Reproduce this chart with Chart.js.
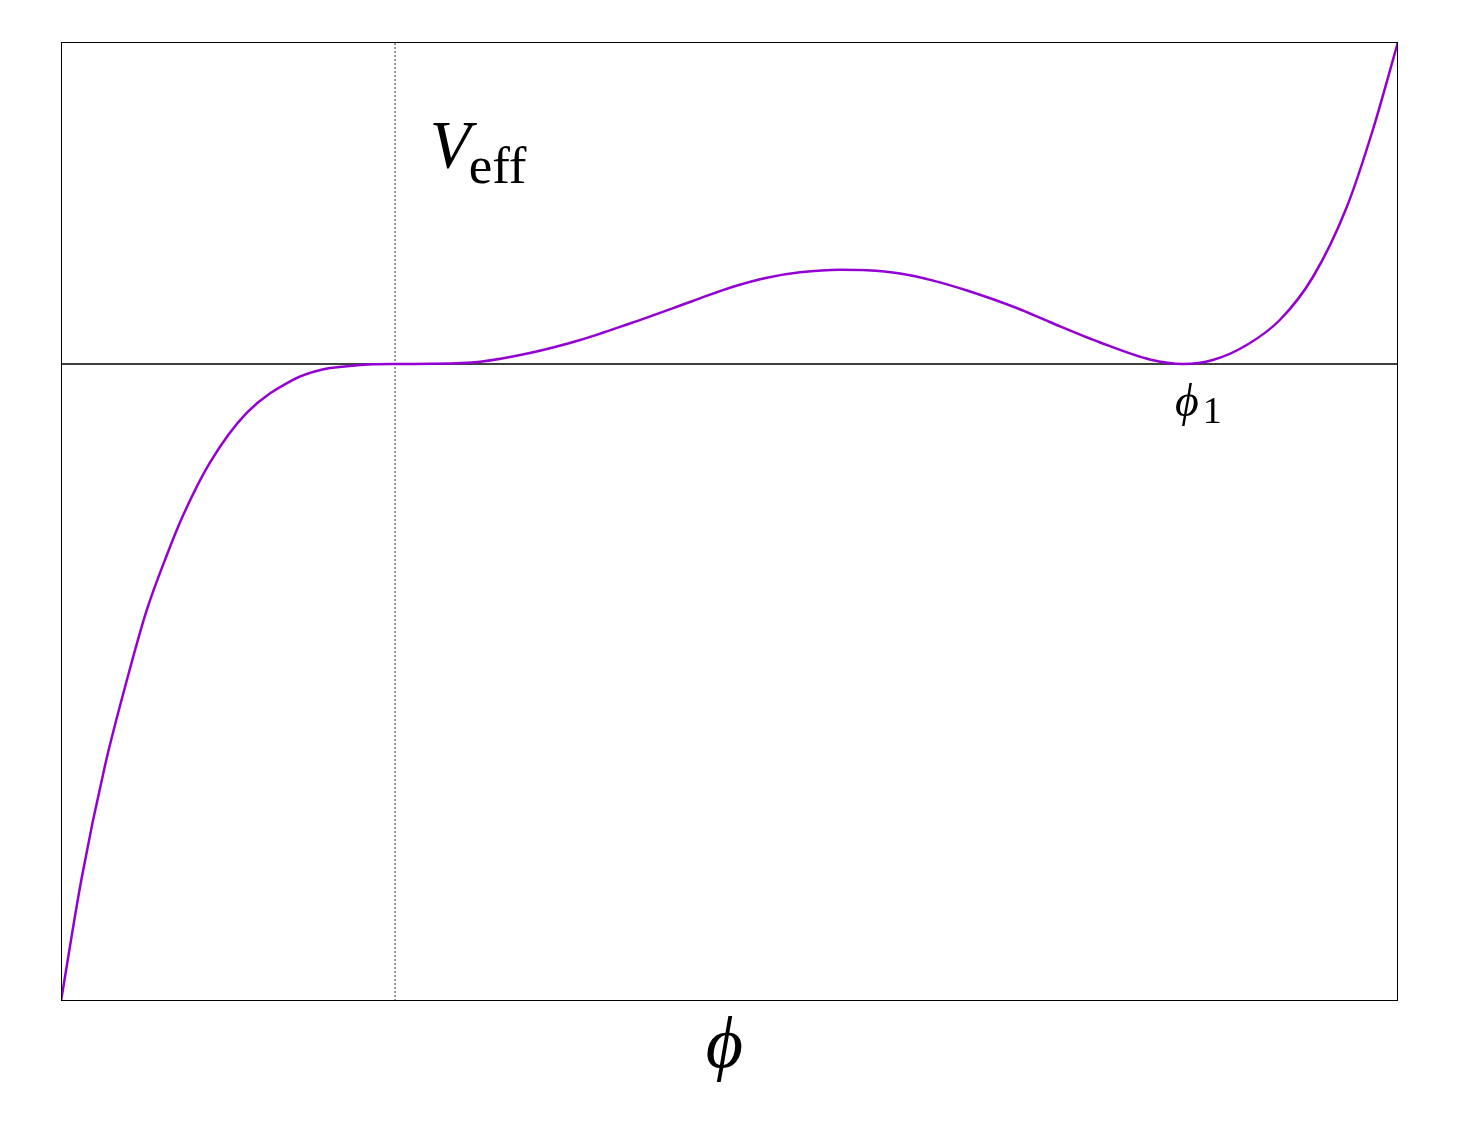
<!DOCTYPE html>
<html>
<head>
<meta charset="utf-8">
<script src="https://cdn.jsdelivr.net/npm/chart.js@4"></script>
<style>
  html, body { margin: 0; padding: 0; background: #fff; }
  #wrap { width: 1458px; height: 1125px; }
</style>
</head>
<body>
<div id="wrap"><canvas id="potChart" width="1458" height="1125"></canvas></div>
<script>
// phi positions (phi_1 = 1) and V_eff values
const phiValues = [-0.424, -0.398, -0.368, -0.340, -0.315, -0.289, -0.269, -0.235, -0.188, -0.129,
  -0.096, -0.061, -0.028, 0, 0.044, 0.108, 0.171, 0.235, 0.298, 0.362,
  0.387, 0.429, 0.472, 0.514, 0.565, 0.599, 0.641, 0.683, 0.726, 0.789,
  0.831, 0.895, 0.958, 1.0, 1.038, 1.081, 1.123, 1.165, 1.208, 1.241,
  1.273];
const veffValues = [-6.37, -5.15, -4.01, -3.15, -2.457, -1.897, -1.513, -0.987, -0.487, -0.156,
  -0.062, -0.023, -0.003, 0, 0.002, 0.023, 0.11, 0.24, 0.405, 0.585,
  0.657, 0.773, 0.863, 0.917, 0.943, 0.938, 0.905, 0.834, 0.735, 0.56,
  0.42, 0.215, 0.045, 0, 0.04, 0.19, 0.44, 0.87, 1.57, 2.34,
  3.22];

const xMin = -0.424, xMax = 1.273;
const yMin = -6.37, yMax = 3.22;
const phiOne = 1;      // where the phi_1 label sits
const dottedAt = 0;    // inflection point marker

const curve = phiValues.map((x, i) => ({ x: x, y: veffValues[i] }));

// frame + text labels
const labelsPlugin = {
  id: 'labels',
  afterDraw(chart) {
    const { ctx, chartArea, scales } = chart;
    ctx.save();
    ctx.strokeStyle = '#000';
    ctx.lineWidth = 1;
    ctx.strokeRect(chartArea.left + 0.5, chartArea.top + 0.5,
      chartArea.right - chartArea.left - 1, chartArea.bottom - chartArea.top - 1);

    ctx.fillStyle = '#000';
    ctx.textBaseline = 'alphabetic';
    ctx.textAlign = 'left';

    // V_eff
    let x = scales.x.getPixelForValue(0.044);
    let y = scales.y.getPixelForValue(1.97);
    ctx.font = 'italic 67px "Liberation Serif"';
    ctx.fillText('V', x, y);
    x += ctx.measureText('V').width - 2;
    ctx.font = '53px "Liberation Serif"';
    ctx.fillText('eff', x, y + 16);

    // phi_1
    x = scales.x.getPixelForValue(phiOne - 0.01);
    y = scales.y.getPixelForValue(-0.52);
    ctx.font = 'italic 46px "Liberation Serif"';
    ctx.fillText('\u03d5', x, y);
    x += ctx.measureText('\u03d5').width + 4;
    ctx.font = '38px "Liberation Serif"';
    ctx.fillText('1', x, y + 7);

    // x axis title
    ctx.textAlign = 'center';
    ctx.font = 'italic 72px "Liberation Serif"';
    ctx.fillText('\u03d5', (chartArea.left + chartArea.right) / 2 - 5, chartArea.bottom + 66);
    ctx.restore();
  }
};

new Chart(document.getElementById('potChart'), {
  type: 'scatter',
  data: {
    datasets: [
      {
        data: curve,
        showLine: true,
        borderColor: '#9400d3',
        borderWidth: 2.5,
        pointRadius: 0,
        cubicInterpolationMode: 'monotone'
      },
      {
        data: [{ x: xMin, y: 0 }, { x: xMax, y: 0 }],
        showLine: true,
        borderColor: '#000',
        borderWidth: 1.4,
        pointRadius: 0
      },
      {
        data: [{ x: dottedAt, y: yMin }, { x: dottedAt, y: yMax }],
        showLine: true,
        borderColor: '#333',
        borderWidth: 1,
        borderDash: [2, 2],
        pointRadius: 0
      }
    ]
  },
  options: {
    responsive: false,
    animation: false,
    layout: { padding: { left: 61, right: 60, top: 42, bottom: 124 } },
    plugins: { legend: { display: false }, tooltip: { enabled: false } },
    scales: {
      x: { type: 'linear', min: xMin, max: xMax, display: false },
      y: { type: 'linear', min: yMin, max: yMax, display: false }
    }
  },
  plugins: [labelsPlugin]
});
</script>
</body>
</html>
